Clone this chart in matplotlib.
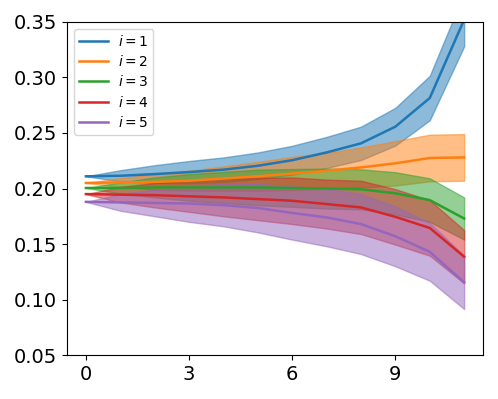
import numpy as np
import matplotlib
matplotlib.use("Agg")
import matplotlib.pyplot as plt

x = list(range(12))
labels = ["$i = 1$", "$i = 2$", "$i = 3$", "$i = 4$", "$i = 5$"]

m1 = [0.211, 0.2115, 0.213, 0.2148, 0.217, 0.2205, 0.2255, 0.2325, 0.2407, 0.2557, 0.2815, 0.352]
h1 = [0.0, 0.005, 0.008, 0.010, 0.011, 0.012, 0.013, 0.014, 0.015, 0.017, 0.020, 0.024]
m2 = [0.205, 0.2055, 0.206, 0.207, 0.209, 0.211, 0.2135, 0.216, 0.219, 0.2227, 0.2275, 0.228]
h2 = [0.0, 0.004, 0.007, 0.009, 0.011, 0.013, 0.015, 0.016, 0.018, 0.020, 0.021, 0.021]
m3 = [0.2005, 0.2005, 0.201, 0.201, 0.201, 0.201, 0.2005, 0.200, 0.1993, 0.1957, 0.1896, 0.173]
h3 = [0.0, 0.005, 0.009, 0.012, 0.014, 0.016, 0.017, 0.018, 0.018, 0.019, 0.0196, 0.019]
m4 = [0.195, 0.1945, 0.194, 0.193, 0.192, 0.1905, 0.189, 0.186, 0.183, 0.1745, 0.1645, 0.1386]
h4 = [0.0, 0.007, 0.011, 0.014, 0.017, 0.019, 0.021, 0.022, 0.024, 0.025, 0.025, 0.024]
m5 = [0.188, 0.1875, 0.187, 0.1865, 0.185, 0.1825, 0.178, 0.174, 0.168, 0.157, 0.143, 0.1155]
h5 = [0.0, 0.0075, 0.012, 0.0165, 0.019, 0.022, 0.024, 0.026, 0.027, 0.027, 0.026, 0.024]

means = [m1, m2, m3, m4, m5]
halfw = [h1, h2, h3, h4, h5]
colors = ["#1f77b4", "#ff7f0e", "#2ca02c", "#d62728", "#9467bd"]

fig = plt.figure(figsize=(4.98, 3.99), dpi=100)
ax = fig.add_axes([0.1345, 0.110, 0.8355, 0.835])
for m, h, c, lab in zip(means, halfw, colors, labels):
    m = np.array(m); h = np.array(h)
    ax.plot(x, m, color=c, lw=1.8, label=lab)
    ax.fill_between(x, m - h, m + h, color=c, alpha=0.5)

ax.set_ylim(0.05, 0.35)
ax.set_xticks([0, 3, 6, 9])
ax.set_yticks([0.05, 0.10, 0.15, 0.20, 0.25, 0.30, 0.35])
ax.tick_params(labelsize=14)
ax.legend(loc="upper left", fontsize=10, labelspacing=0.38, borderpad=0.35,
          handlelength=2.1, handletextpad=0.7)
fig.savefig("out.png", dpi=100)
